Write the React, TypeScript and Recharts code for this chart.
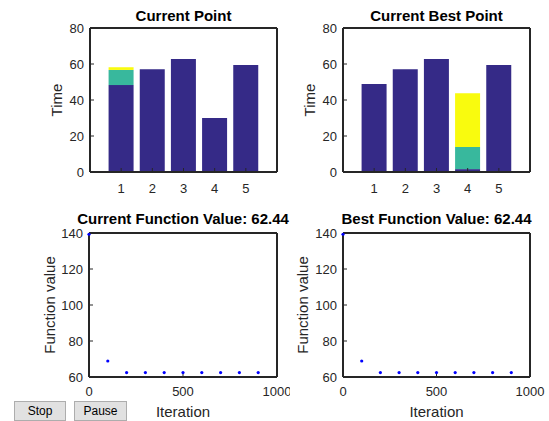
import { BarChart, Bar, ScatterChart, Scatter, XAxis, YAxis } from 'recharts';

const FONT = '"Liberation Sans", Arial, Helvetica, sans-serif';
const AXIS = '#262626';
const BLUE = '#352a87';
const TEAL = '#38b89d';
const YELLOW = '#f9fb0e';

// bar panels
const points = [1, 2, 3, 4, 5];
const timeTicks = [0, 20, 40, 60, 80];
const currentBlue = [48.3, 57.1, 62.8, 30.0, 59.4];
const currentTeal = [8.4, 0, 0, 0, 0];
const currentYellow = [1.5, 0, 0, 0, 0];
const bestBlue = [48.9, 57.1, 62.8, 1.6, 59.4];
const bestTeal = [0, 0, 0, 12.3, 0];
const bestYellow = [0, 0, 0, 29.9, 0];

// function value panels
const iterations = [0, 100, 200, 300, 400, 500, 600, 700, 800, 900];
const currentValues = [139.3, 68.9, 62.44, 62.44, 62.44, 62.44, 62.44, 62.44, 62.44, 62.44];
const bestValues = [139.3, 68.9, 62.44, 62.44, 62.44, 62.44, 62.44, 62.44, 62.44, 62.44];
const iterTicks = [0, 500, 1000];
const funcTicks = [60, 80, 100, 120, 140];

const tickStyle = { fill: AXIS, fontSize: 13, fontFamily: FONT };
const axisLine = { stroke: AXIS, strokeWidth: 2 };
const tickLine = { stroke: AXIS, strokeWidth: 1 };

type PanelProps = {
  left: number;
  top: number;
  width: number;
  height: number;
  axisLeft: number;
  axisRight: number;
  plotTop: number;
  plotBottom: number;
  title: string;
  titleY: number;
  yLabel: string;
  yLabelGap: number;
};

const titleLabel = (text: string, cx: number, y: number) => () => (
  <text x={cx} y={y} textAnchor="middle" fill="#000" fontSize={15} fontWeight="bold" fontFamily={FONT}>
    {text}
  </text>
);

const yLabel = (text: string, x: number, cy: number) => () => (
  <text
    x={x}
    y={cy}
    transform={`rotate(-90 ${x} ${cy})`}
    textAnchor="middle"
    dominantBaseline="central"
    fill={AXIS}
    fontSize={15}
    fontFamily={FONT}
  >
    {text}
  </text>
);

const xLabel = (text: string, cx: number, y: number) => () => (
  <text x={cx} y={y} textAnchor="middle" fill={AXIS} fontSize={15} fontFamily={FONT}>
    {text}
  </text>
);

const BarPanel = (p: PanelProps & { blue: number[]; teal: number[]; yellow: number[] }) => {
  const data = points.map((pt, i) => ({ pt, blue: p.blue[i], teal: p.teal[i], yellow: p.yellow[i] }));
  const cx = (p.axisLeft + p.axisRight) / 2;
  const cy = (p.plotTop + p.plotBottom) / 2;
  return (
    <div style={{ position: 'absolute', left: p.left, top: p.top }}>
      <BarChart width={p.width} height={p.height} data={data} margin={{ top: 0, right: 0, bottom: 0, left: 0 }}>
        <XAxis
          xAxisId="b"
          dataKey="pt"
          type="number"
          domain={[0, 6]}
          ticks={points}
          interval={0}
          height={p.height - p.plotBottom}
          tickSize={-4}
          tickMargin={16}
          tick={tickStyle}
          axisLine={axisLine}
          tickLine={tickLine}
        />
        <XAxis
          xAxisId="t"
          orientation="top"
          type="number"
          domain={[0, 6]}
          ticks={points}
          interval={0}
          allowDataOverflow
          height={p.plotTop}
          tickSize={-4}
          tick={false}
          axisLine={axisLine}
          tickLine={tickLine}
          label={titleLabel(p.title, cx, p.titleY)}
        />
        <YAxis
          yAxisId="l"
          type="number"
          domain={[0, 80]}
          ticks={timeTicks}
          interval={0}
          width={p.axisLeft}
          tickSize={-4}
          tickMargin={10}
          tick={tickStyle}
          axisLine={axisLine}
          tickLine={tickLine}
          label={yLabel(p.yLabel, p.axisLeft - p.yLabelGap, cy)}
        />
        <YAxis
          yAxisId="r"
          orientation="right"
          type="number"
          domain={[0, 80]}
          ticks={timeTicks}
          interval={0}
          allowDataOverflow
          width={p.width - p.axisRight}
          tickSize={-4}
          tick={false}
          axisLine={axisLine}
          tickLine={tickLine}
        />
        <Bar xAxisId="b" yAxisId="l" dataKey="blue" stackId="s" fill={BLUE} barSize={25} isAnimationActive={false} />
        <Bar xAxisId="b" yAxisId="l" dataKey="teal" stackId="s" fill={TEAL} barSize={25} isAnimationActive={false} />
        <Bar xAxisId="b" yAxisId="l" dataKey="yellow" stackId="s" fill={YELLOW} barSize={25} isAnimationActive={false} />
      </BarChart>
    </div>
  );
};

const Dot = (props: any) => <circle cx={props.cx} cy={props.cy} r={1.6} fill="#0000ff" />;

const ScatterPanel = (p: PanelProps & { values: number[] }) => {
  const data = iterations.map((it, i) => ({ it, val: p.values[i] }));
  const cx = (p.axisLeft + p.axisRight) / 2;
  const cy = (p.plotTop + p.plotBottom) / 2;
  return (
    <div style={{ position: 'absolute', left: p.left, top: p.top }}>
      <ScatterChart width={p.width} height={p.height} margin={{ top: 0, right: 0, bottom: 0, left: 0 }}>
        <XAxis
          xAxisId="b"
          dataKey="it"
          type="number"
          domain={[0, 1000]}
          ticks={iterTicks}
          interval={0}
          height={p.height - p.plotBottom}
          tickSize={-4}
          tickMargin={14}
          tick={tickStyle}
          axisLine={axisLine}
          tickLine={tickLine}
          label={xLabel('Iteration', cx, 217)}
        />
        <XAxis
          xAxisId="t"
          orientation="top"
          type="number"
          domain={[0, 1000]}
          ticks={iterTicks}
          interval={0}
          allowDataOverflow
          height={p.plotTop}
          tickSize={-4}
          tick={false}
          axisLine={axisLine}
          tickLine={tickLine}
          label={titleLabel(p.title, cx, p.titleY)}
        />
        <YAxis
          yAxisId="l"
          dataKey="val"
          type="number"
          domain={[60, 140]}
          ticks={funcTicks}
          interval={0}
          width={p.axisLeft}
          tickSize={-4}
          tickMargin={10}
          tick={tickStyle}
          axisLine={axisLine}
          tickLine={tickLine}
          label={yLabel(p.yLabel, p.axisLeft - p.yLabelGap, cy)}
        />
        <YAxis
          yAxisId="r"
          orientation="right"
          type="number"
          domain={[60, 140]}
          ticks={funcTicks}
          interval={0}
          allowDataOverflow
          width={p.width - p.axisRight}
          tickSize={-4}
          tick={false}
          axisLine={axisLine}
          tickLine={tickLine}
        />
        <Scatter xAxisId="b" yAxisId="l" data={data} shape={Dot} isAnimationActive={false} />
      </ScatterChart>
    </div>
  );
};

const buttonStyle = (left: number, width: number): React.CSSProperties => ({
  position: 'absolute',
  left,
  top: 401,
  width,
  height: 20,
  boxSizing: 'border-box',
  background: '#e1e1e1',
  border: '1px solid #adadad',
  fontFamily: FONT,
  fontSize: 12,
  color: '#000',
  lineHeight: '18px',
  textAlign: 'center',
});

export default function App() {
  return (
    <div style={{ position: 'absolute', left: 0, top: 0, width: 549, height: 421, background: '#fff', overflow: 'hidden' }}>
      <BarPanel
        left={0} top={0} width={290} height={200}
        axisLeft={90} axisRight={277} plotTop={28} plotBottom={172}
        title="Current Point" titleY={21} yLabel="Time" yLabelGap={34}
        blue={currentBlue} teal={currentTeal} yellow={currentYellow}
      />
      <BarPanel
        left={290} top={0} width={259} height={200}
        axisLeft={53} axisRight={240} plotTop={28} plotBottom={172}
        title="Current Best Point" titleY={21} yLabel="Time" yLabelGap={34}
        blue={bestBlue} teal={bestTeal} yellow={bestYellow}
      />
      <ScatterPanel
        left={0} top={200} width={290} height={221}
        axisLeft={89} axisRight={277} plotTop={33} plotBottom={177}
        title="Current Function Value: 62.44" titleY={24} yLabel="Function value" yLabelGap={40}
        values={currentValues}
      />
      <ScatterPanel
        left={290} top={200} width={259} height={221}
        axisLeft={53} axisRight={240} plotTop={33} plotBottom={177}
        title="Best Function Value: 62.44" titleY={24} yLabel="Function value" yLabelGap={41}
        values={bestValues}
      />
      <div style={buttonStyle(14, 52)}>Stop</div>
      <div style={buttonStyle(74, 53)}>Pause</div>
    </div>
  );
}
